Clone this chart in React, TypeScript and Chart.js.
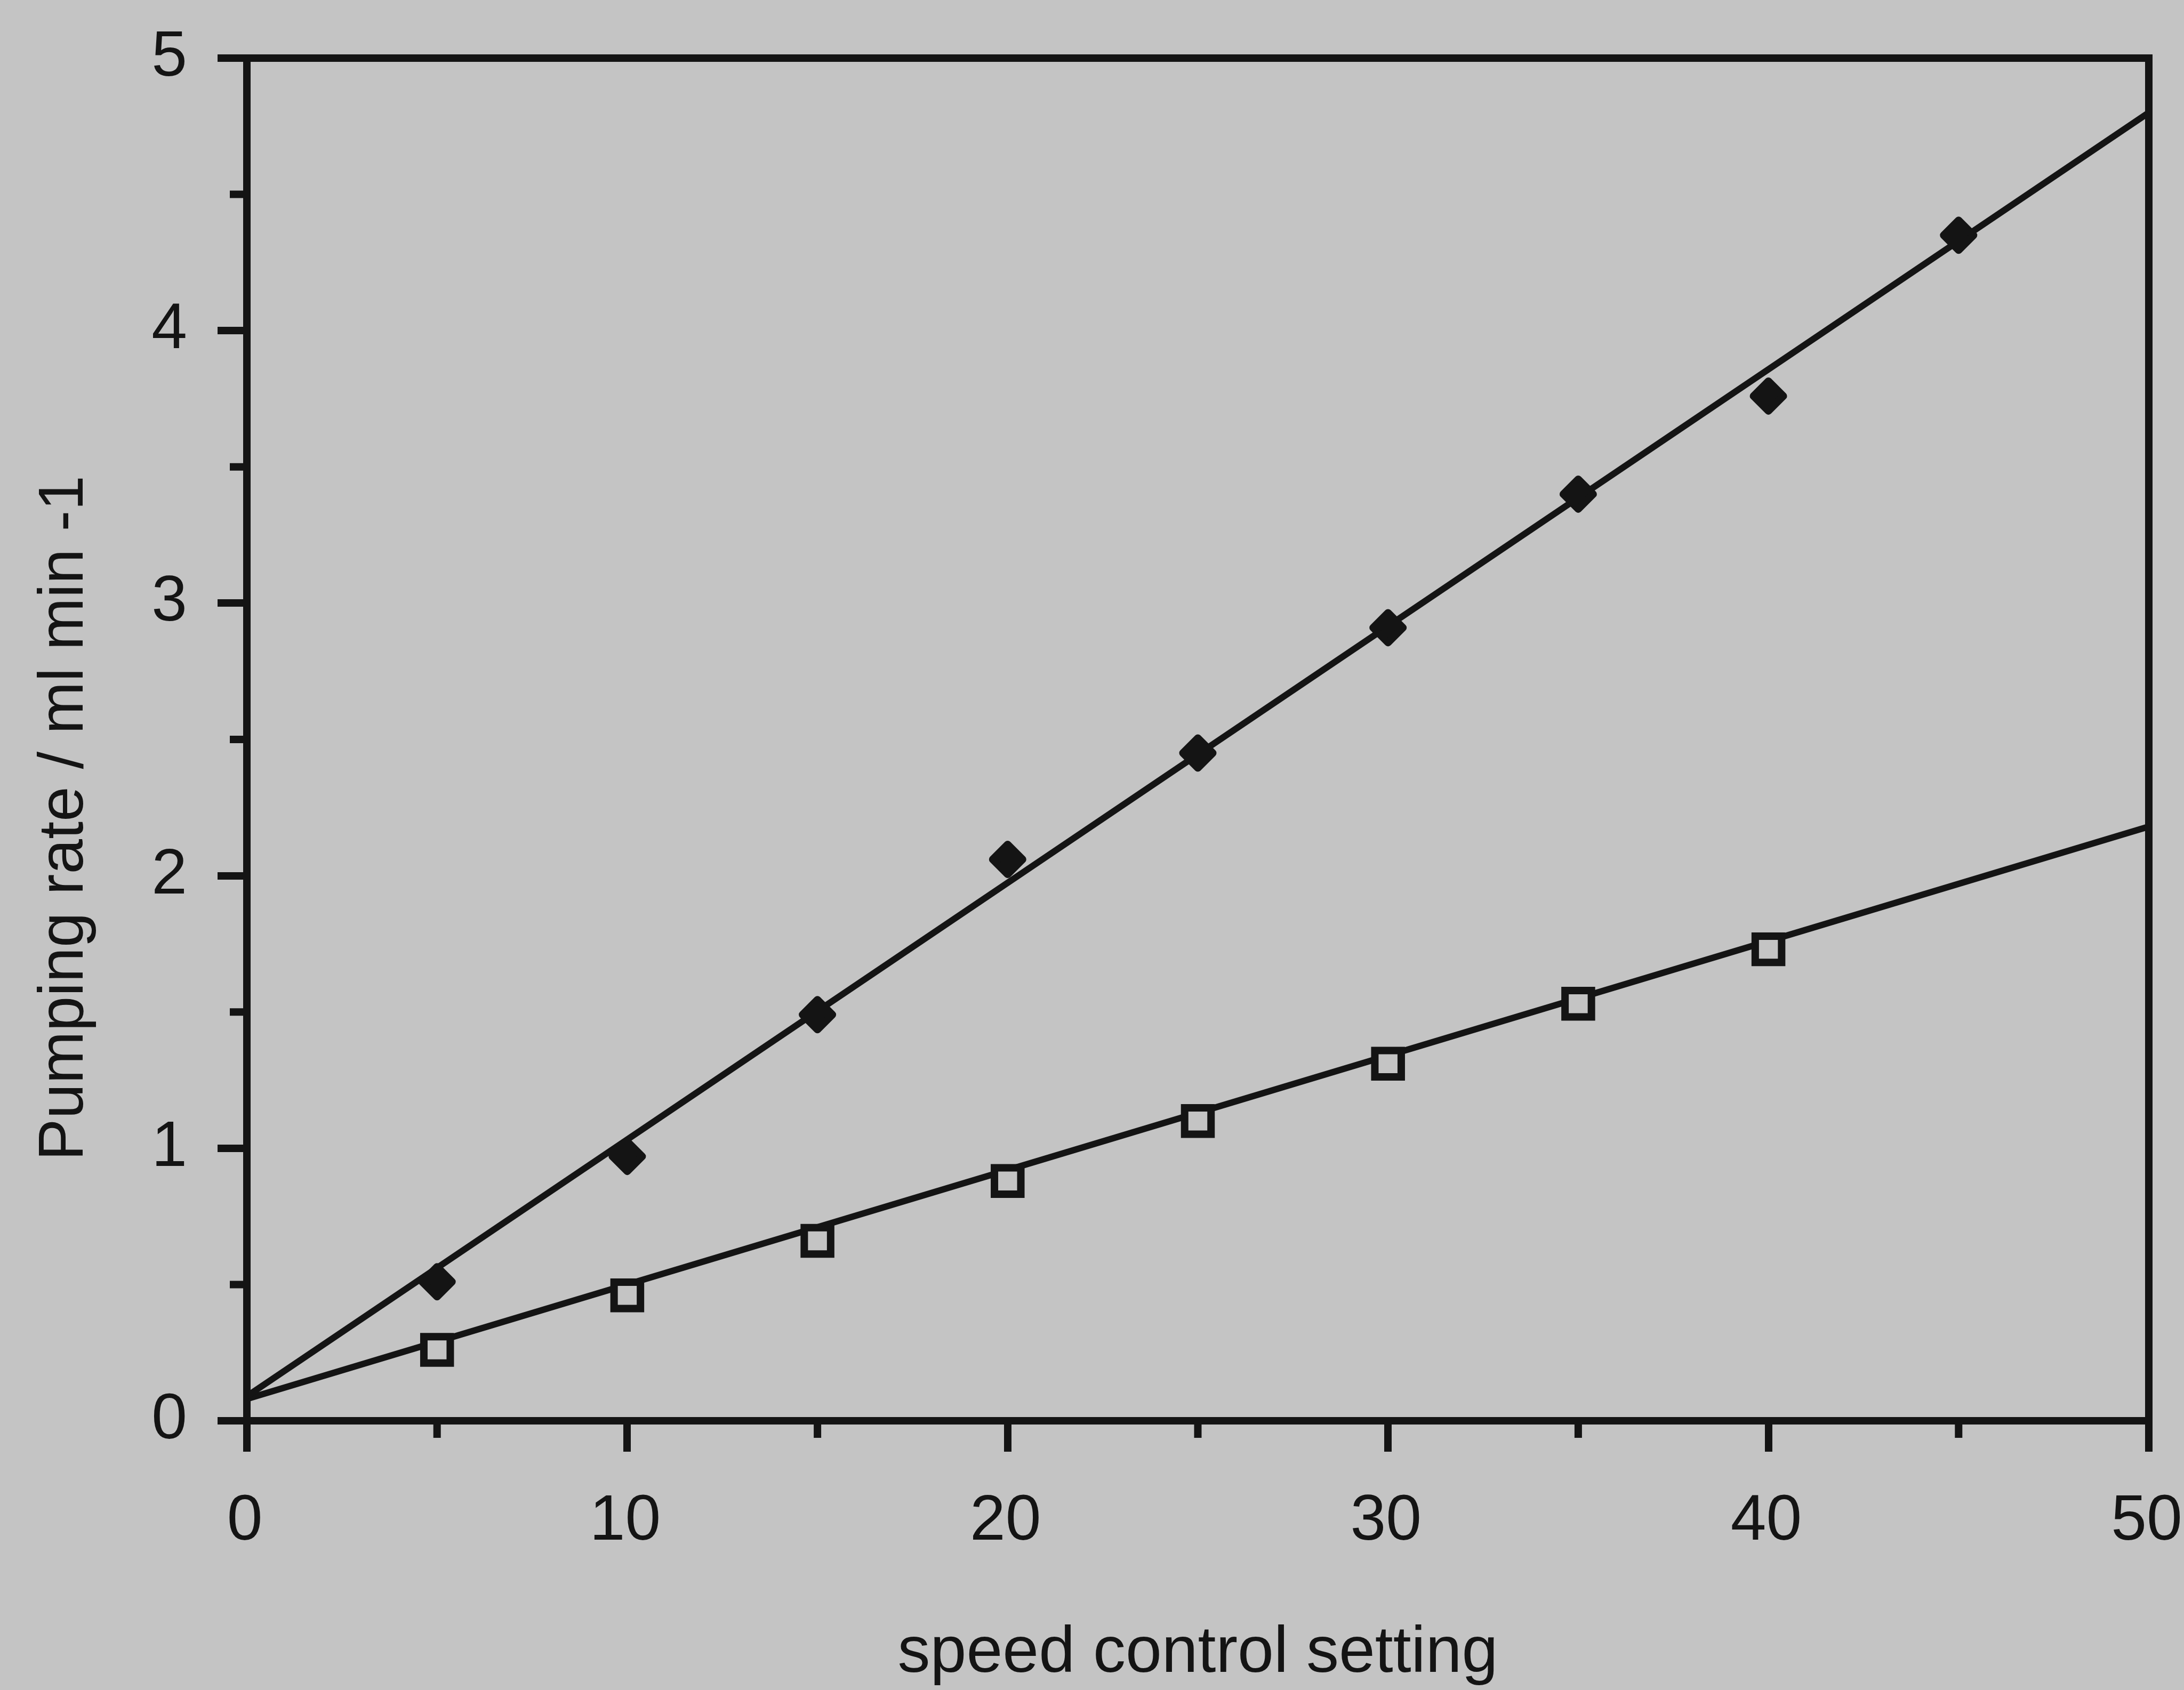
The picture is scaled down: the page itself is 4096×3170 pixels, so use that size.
import React, { useEffect, useRef } from 'react';
import { Chart, registerables } from 'chart.js';

Chart.register(...registerables);

// ---- data ----
const diamondSettings = [5, 10, 15, 20, 25, 30, 35, 40, 45];
const diamondRates = [0.51, 0.97, 1.49, 2.06, 2.45, 2.91, 3.4, 3.76, 4.35];
const squareSettings = [5, 10, 15, 20, 25, 30, 35, 40];
const squareRates = [0.26, 0.46, 0.66, 0.88, 1.1, 1.31, 1.53, 1.73];
const fitSettings = [0, 50];
const diamondFit = [0.09, 4.8];
const squareFit = [0.08, 2.18];
const xMajorTicks = [0, 10, 20, 30, 40, 50];
const xMinorTicks = [5, 15, 25, 35, 45];
const xTickLabels = ['0', '10', '20', '30', '40', '50'];
const yMajorTicks = [0, 1, 2, 3, 4, 5];
const yMinorTicks = [0.5, 1.5, 2.5, 3.5, 4.5];
const yTickLabels = ['0', '1', '2', '3', '4', '5'];

// ---- styles ----
const W = 4096;
const H = 3170;
const BG = '#c4c4c4';
const INK = '#141414';
const FONT = "'Liberation Sans', Arial, Helvetica, sans-serif";
const AXIS_W = 14;
const MINOR_LEN = 32;

const zip = (xs: number[], ys: number[]) => xs.map((x, i) => ({ x, y: ys[i] }));

const framePlugin = {
  id: 'frame',
  beforeDraw(chart: any) {
    const { ctx } = chart;
    ctx.save();
    ctx.fillStyle = BG;
    ctx.fillRect(0, 0, chart.width, chart.height);
    ctx.restore();
  },
  beforeDatasetDraw(chart: any, args: any) {
    chart.ctx.lineJoin = args.index === 0 ? 'round' : 'miter';
  },
  afterDraw(chart: any) {
    const { ctx, chartArea: a, scales } = chart;
    const x = scales.x;
    const y = scales.y;
    ctx.save();
    ctx.strokeStyle = INK;
    ctx.lineWidth = AXIS_W;
    ctx.lineCap = 'butt';
    ctx.lineJoin = 'miter';
    ctx.beginPath();
    ctx.moveTo(a.left - AXIS_W / 2, a.top);
    ctx.lineTo(a.right, a.top);
    ctx.lineTo(a.right, a.bottom + AXIS_W / 2);
    ctx.stroke();
    ctx.beginPath();
    xMinorTicks.forEach((v) => {
      const px = x.getPixelForValue(v);
      ctx.moveTo(px, a.bottom);
      ctx.lineTo(px, a.bottom + MINOR_LEN);
    });
    yMinorTicks.forEach((v) => {
      const py = y.getPixelForValue(v);
      ctx.moveTo(a.left, py);
      ctx.lineTo(a.left - MINOR_LEN, py);
    });
    ctx.stroke();
    ctx.restore();
  },
};

export default function App() {
  const ref = useRef<HTMLCanvasElement | null>(null);

  useEffect(() => {
    document.body.style.margin = '0';
    document.body.style.background = BG;
    const canvas = ref.current;
    if (!canvas) return;
    const chart = new Chart(canvas, {
      type: 'scatter',
      data: {
        datasets: [
          {
            label: 'diamonds',
            data: zip(diamondSettings, diamondRates),
            pointStyle: 'rectRot',
            pointRadius: 28,
            pointBorderWidth: 14,
            pointBackgroundColor: INK,
            pointBorderColor: INK,
            showLine: false,
            clip: false,
          },
          {
            label: 'squares',
            data: zip(squareSettings, squareRates),
            pointStyle: 'rect',
            pointRadius: 35,
            pointBorderWidth: 14,
            pointBackgroundColor: BG,
            pointBorderColor: INK,
            showLine: false,
            clip: false,
          },
          {
            label: 'fit diamonds',
            data: zip(fitSettings, diamondFit),
            showLine: true,
            borderColor: INK,
            borderWidth: 12,
            pointRadius: 0,
          },
          {
            label: 'fit squares',
            data: zip(fitSettings, squareFit),
            showLine: true,
            borderColor: INK,
            borderWidth: 12,
            pointRadius: 0,
          },
        ] as any,
      },
      options: {
        animation: false,
        responsive: false,
        devicePixelRatio: 1,
        layout: { padding: { left: 52, right: 66, top: 109, bottom: 0 } },
        plugins: {
          legend: { display: false },
          tooltip: { enabled: false },
        },
        events: [],
        scales: {
          x: {
            type: 'linear',
            position: 'bottom',
            min: 0,
            max: 50,
            afterBuildTicks: (s: any) => {
              s.ticks = xMajorTicks.map((v) => ({ value: v }));
            },
            afterFit: (s: any) => {
              s.height = 505;
              s.paddingLeft = 0;
              s.paddingRight = 0;
            },
            ticks: {
              color: INK,
              font: { family: FONT, size: 120 },
              padding: 60,
              labelOffset: -4,
              maxRotation: 0,
              autoSkip: false,
              callback: (_v: any, i: number) => xTickLabels[i],
            },
            grid: {
              drawOnChartArea: false,
              drawTicks: true,
              tickLength: 58,
              tickWidth: AXIS_W,
              lineWidth: AXIS_W,
              color: INK,
              tickColor: INK,
            },
            border: { display: true, color: INK, width: AXIS_W },
            title: {
              display: true,
              text: 'speed control setting',
              color: INK,
              font: { family: FONT, size: 122, lineHeight: 1 },
              padding: { top: 0, bottom: 7 },
            },
          },
          y: {
            type: 'linear',
            position: 'left',
            min: 0,
            max: 5,
            afterBuildTicks: (s: any) => {
              s.ticks = yMajorTicks.map((v) => ({ value: v }));
            },
            afterFit: (s: any) => {
              s.width = 411;
              s.paddingTop = 0;
              s.paddingBottom = 0;
            },
            ticks: {
              color: INK,
              font: { family: FONT, size: 120 },
              padding: 57,
              autoSkip: false,
              callback: (_v: any, i: number) => yTickLabels[i],
            },
            grid: {
              drawOnChartArea: false,
              drawTicks: true,
              tickLength: 55,
              tickWidth: AXIS_W,
              lineWidth: AXIS_W,
              color: INK,
              tickColor: INK,
            },
            border: { display: true, color: INK, width: AXIS_W },
            title: {
              display: true,
              text: 'Pumping rate / ml min -1' + '\u00A0'.repeat(9),
              color: INK,
              font: { family: FONT, size: 118, lineHeight: 1.2 },
              padding: { top: 0, bottom: 0 },
            },
          },
        },
      } as any,
      plugins: [framePlugin],
    });
    return () => chart.destroy();
  }, []);

  return (
    <div style={{ position: 'fixed', left: 0, top: 0, width: W, height: H, background: BG }}>
      <canvas ref={ref} width={W} height={H} style={{ display: 'block', width: W, height: H }} />
    </div>
  );
}
